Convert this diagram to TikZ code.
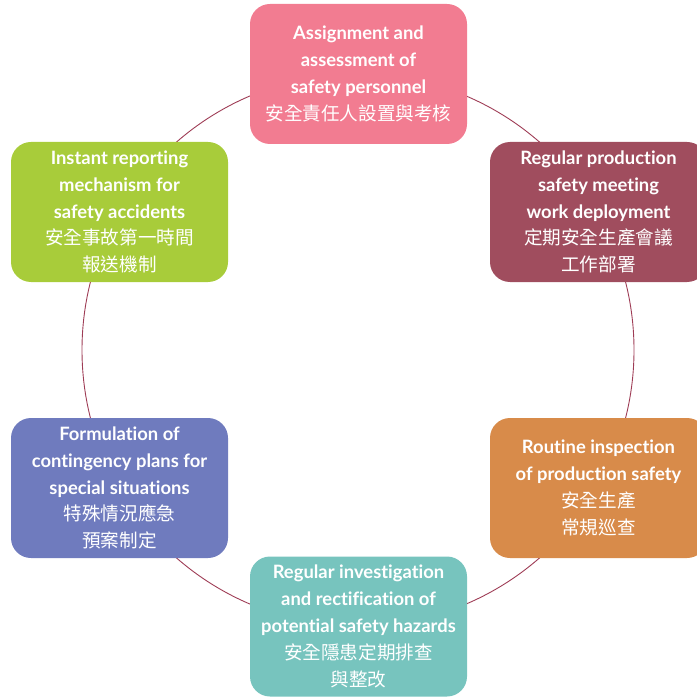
\documentclass[tikz,border=0pt]{standalone}
\usepackage{fontspec}
\setmainfont[RawFeature={-liga}]{Lato}
\newfontfamily\cjk{Noto Sans CJK TC}
\usepackage{xcolor}
\definecolor{ringRed}{HTML}{9E3C55}
\definecolor{taskPink}{HTML}{F27C91}
\definecolor{taskWine}{HTML}{A04D5E}
\definecolor{taskOrange}{HTML}{D88B4A}
\definecolor{taskTeal}{HTML}{77C4BE}
\definecolor{taskBlue}{HTML}{6F7BBE}
\definecolor{taskGreen}{HTML}{A8CC3A}
\usetikzlibrary{positioning}
\newcommand{\zh}[1]{{\cjk\mdseries\fontsize{18.6}{27}\selectfont #1}}
\tikzset{
    task/.style={
        rectangle,
        rounded corners=20pt,
        align=center,
        minimum width=217pt,
        minimum height=140pt,
        inner sep=0pt,
        text=white,
        font=\fontsize{18.4}{26.8}\selectfont\bfseries
    },
    ring/.style={
        circle,
        draw=ringRed,
        line width=0.9pt,
        minimum size=552pt,
        inner sep=0pt
    }
}

\begin{document}
\begin{tikzpicture}[x=1pt,y=-1pt]
    \useasboundingbox (0,0) rectangle (696,700);
    \node[ring] (cycle) at (358,350) {};

    \node[task, fill=taskPink] (assign) at (358.5,74)
        {Assignment and\\assessment of\\safety personnel\\\zh{安全責任人設置與考核}};
    \node[task, fill=taskWine] (meeting) at (598.5,212)
        {Regular production\\safety meeting\\work deployment\\\zh{定期安全生產會議}\\\zh{工作部署}};
    \node[task, fill=taskOrange] (inspect) at (598.5,488)
        {Routine inspection\\of production safety\\\zh{安全生產}\\\zh{常規巡查}};
    \node[task, fill=taskTeal] (hazard) at (358.5,626.5)
        {Regular investigation\\and rectification of\\potential safety hazards\\\zh{安全隱患定期排查}\\\zh{與整改}};
    \node[task, fill=taskBlue] (plan) at (119.5,488)
        {Formulation of\\contingency plans for\\special situations\\\zh{特殊情況應急}\\\zh{預案制定}};
    \node[task, fill=taskGreen] (report) at (119.5,212)
        {Instant reporting\\mechanism for\\safety accidents\\\zh{安全事故第一時間}\\\zh{報送機制}};
\end{tikzpicture}
\end{document}
